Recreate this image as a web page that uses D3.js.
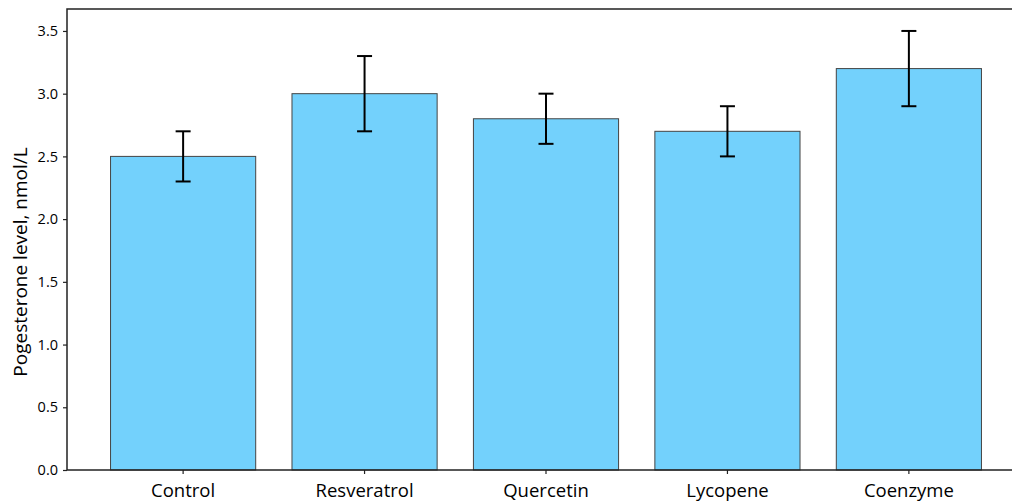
<!DOCTYPE html>
<html>
<head>
<meta charset="utf-8">
<script src="https://cdn.jsdelivr.net/npm/d3@7"></script>
<style>
  html, body { margin: 0; padding: 0; background: #fff; }
  svg { display: block; }
  text { font-family: "Open Sans", "Noto Sans", sans-serif; fill: #000; }
</style>
</head>
<body>
<svg id="chart" width="1012" height="502"></svg>
<script>
// Progesterone level by treatment group (mean ± error)
const groups = ["Control", "Resveratrol", "Quercetin", "Lycopene", "Coenzyme"];
const means  = [2.5, 3.0, 2.8, 2.7, 3.2];
const errors = [0.2, 0.3, 0.2, 0.2, 0.3];
const yTicks = [0.0, 0.5, 1.0, 1.5, 2.0, 2.5, 3.0, 3.5];
const yLabel = "Pogesterone level, nmol/L";

const svg = d3.select("#chart");
const plot = { left: 67, right: 1025, top: 9, bottom: 470 };

const x = d3.scaleBand()
  .domain(groups)
  .range([plot.left, plot.right])
  .paddingInner(0.2)
  .paddingOuter(0.24);

const y = d3.scaleLinear()
  .domain([0, 3.675])
  .range([plot.bottom, plot.top]);

// bars
svg.append("g")
  .selectAll("rect")
  .data(groups)
  .join("rect")
  .attr("x", d => x(d))
  .attr("y", (d, i) => y(means[i]))
  .attr("width", x.bandwidth())
  .attr("height", (d, i) => y(0) - y(means[i]))
  .attr("fill", "#73d1fc")
  .attr("stroke", "#444")
  .attr("stroke-width", 1);

// error bars
const eb = svg.append("g").attr("stroke", "#000").attr("stroke-width", 2);
groups.forEach((g, i) => {
  const cx = x(g) + x.bandwidth() / 2;
  const lo = y(means[i] - errors[i]), hi = y(means[i] + errors[i]);
  eb.append("line").attr("x1", cx).attr("x2", cx).attr("y1", lo).attr("y2", hi);
  eb.append("line").attr("x1", cx - 7.5).attr("x2", cx + 7.5).attr("y1", lo).attr("y2", lo);
  eb.append("line").attr("x1", cx - 7.5).attr("x2", cx + 7.5).attr("y1", hi).attr("y2", hi);
});

// axes
const yAxis = d3.axisLeft(y).tickValues(yTicks).tickFormat(d3.format(".1f")).tickSize(4).tickPadding(5);
const gy = svg.append("g").attr("transform", `translate(${plot.left},0)`).call(yAxis);
gy.select(".domain").remove();
gy.selectAll("line").attr("stroke", "#222").attr("stroke-width", 1.2);
gy.selectAll("text").attr("font-size", 14.5).attr("fill", "#000")
  .style("font-family", "'Open Sans', sans-serif");

const xAxis = d3.axisBottom(x).tickSize(4);
const gx = svg.append("g").attr("transform", `translate(0,${plot.bottom})`).call(xAxis);
gx.select(".domain").remove();
gx.selectAll("line").attr("stroke", "#222").attr("stroke-width", 1.2);
gx.selectAll("text").attr("font-size", 18.5).attr("fill", "#000")
  .attr("y", 27).attr("dy", null)
  .style("font-family", "'Open Sans', sans-serif");

// frame (left, top, bottom spines; right spine falls outside the canvas)
svg.append("rect")
  .attr("x", plot.left).attr("y", plot.top)
  .attr("width", plot.right - plot.left).attr("height", plot.bottom - plot.top)
  .attr("fill", "none").attr("stroke", "#222").attr("stroke-width", 1.5);

// y label
svg.append("text")
  .attr("transform", "translate(27,262) rotate(-90)")
  .attr("text-anchor", "middle")
  .attr("font-size", 19)
  .attr("fill", "#2e2210")
  .text(yLabel);
</script>
</body>
</html>
